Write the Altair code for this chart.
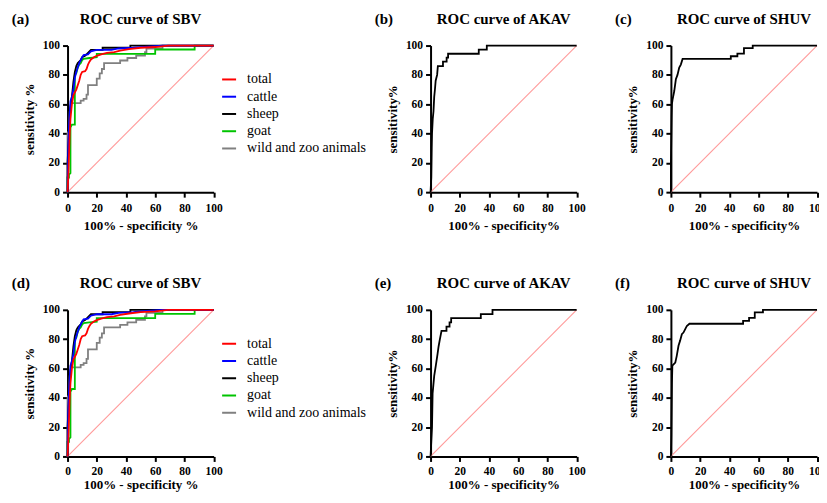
import altair as alt
import pandas as pd

# ---------------- data ----------------
SERIES = ["total", "cattle", "sheep", "goat", "wild and zoo animals"]
COLORS = ["#ff0000", "#0000ff", "#000000", "#00c400", "#808080"]

# SBV curves (panels a and d)
total_fpr = [0, 0.5, 1, 1.5, 2, 2.5, 3, 4, 5, 6, 7, 8, 9, 10, 12, 13, 14, 15, 16, 18, 20, 23, 27, 32, 36, 42, 50, 60, 69, 100]
total_tpr = [0, 10, 25, 40, 50, 55, 60, 66, 68, 70, 73, 76, 80, 82, 82.5, 84, 87, 89, 90.5, 92, 93, 94, 95, 95.5, 96.5, 97.5, 98.5, 99, 100, 100]

cattle_fpr = [0, 0.5, 1, 2, 3, 4, 5, 6, 7, 8, 9, 10, 11, 14, 16, 20, 30, 35, 45, 50, 65, 100]
cattle_tpr = [0, 30, 45, 62, 65, 70, 78, 82, 85, 88, 90, 92, 93.5, 94, 96, 97, 97, 98, 98.5, 99, 100, 100]

sheep_fpr = [0, 0, 1, 2, 3, 4, 5, 6, 7, 8, 9, 10, 12, 14, 16, 24, 24, 43, 43, 100]
sheep_tpr = [0, 20, 40, 58, 65, 75, 82, 86, 88, 89, 90, 92, 93, 95, 97, 97, 98.5, 98.5, 100, 100]

goat_fpr = [0, 0, 1, 1, 2, 2, 3, 5, 5, 6, 7, 8, 9, 10, 11, 15, 20, 20, 60, 60, 87, 87, 100]
goat_tpr = [0, 10, 10, 12, 13, 44, 46, 46, 80, 81, 85, 87, 88, 90, 91, 91.5, 92, 94.3, 94.3, 97.3, 97.3, 100, 100]

wild_fpr = [0, 0, 1, 1.5, 2, 2.5, 9, 9, 11, 11, 13, 13, 14, 14, 20, 20, 22, 22, 23.5, 23.5, 25, 25, 36, 36, 41, 41, 47, 47, 53, 53, 54, 54, 65, 65, 100]
wild_tpr = [0, 40, 42, 55, 58, 60.7, 60.7, 62.5, 62.5, 63.6, 63.6, 66.5, 66.5, 73, 73, 77.5, 77.5, 81, 81, 84, 84, 88, 88, 89.8, 89.8, 91.5, 91.5, 93.2, 93.2, 95.5, 95.5, 98, 98, 100, 100]

# AKAV (panel b)
akav_b_fpr = [0, 0.5, 0.8, 1, 1.5, 2, 2.5, 3, 3.5, 4, 4.5, 5, 8.5, 8.5, 11, 11, 12, 12, 33, 33, 38.5, 38.5, 100]
akav_b_tpr = [0, 10, 30, 40, 50, 55, 65, 70, 76, 78, 80, 86, 86, 89, 89, 91.7, 91.7, 94.4, 94.4, 97.2, 97.2, 100, 100]

# AKAV (panel e)
akav_e_fpr = [0, 0.5, 1, 1.4, 2.5, 3.6, 4.8, 5.5, 6.4, 7.5, 10.9, 10.9, 13, 13, 14.1, 14.1, 34.4, 34.4, 42.4, 42.4, 100]
akav_e_tpr = [0, 10, 20, 43, 55, 62, 70, 75, 80, 85.6, 85.6, 88.6, 88.6, 91.4, 91.4, 94.3, 94.3, 97.1, 97.1, 100, 100]

# SHUV (panel c)
shuv_c_fpr = [0, 0, 0.5, 0.7, 1.1, 2.3, 3.4, 4.5, 5.7, 6.8, 8, 41, 41, 45.5, 45.5, 50, 50, 56, 56, 100]
shuv_c_tpr = [0, 20, 52, 60, 63, 69, 77, 80, 85, 87, 90.9, 90.9, 92.7, 92.7, 94.5, 94.5, 98.2, 98.2, 100, 100]

# SHUV (panel f)
shuv_f_fpr = [0, 0.3, 0.7, 1, 3, 4, 5.2, 6.3, 7.5, 8.6, 9.8, 10.9, 12.7, 49.4, 49.4, 53.5, 53.5, 57.4, 57.4, 63, 63, 100]
shuv_f_tpr = [0, 15, 50, 62, 64, 68.6, 75.5, 79, 83.4, 84.5, 86.8, 89, 90.5, 90.5, 92.5, 92.5, 94.5, 94.5, 98.2, 98.2, 100, 100]

TICKS = [0, 20, 40, 60, 80, 100]
DIAG = [0, 100]

# ---------------- styling ----------------
FONT = "Liberation Serif"
W, H = 146.5, 147


def long_df(pairs):
    rows = []
    for name, fx, fy in pairs:
        for i, (a, b) in enumerate(zip(fx, fy)):
            rows.append({"series": name, "fpr": a, "tpr": b, "idx": i})
    return pd.DataFrame(rows)


def enc_xy(xtitle, ytitle, bottom_row):
    sc = alt.Scale(domain=[0, 100], nice=False, zero=False)
    if bottom_row:
        xax = alt.Axis(values=TICKS, title=xtitle, labelPadding=4, titlePadding=2)
    else:
        xax = alt.Axis(values=TICKS, title=xtitle, labelPadding=5, titlePadding=6)
    x = alt.X("fpr:Q", scale=sc, axis=xax)
    y = alt.Y("tpr:Q", scale=sc, axis=alt.Axis(values=TICKS, title=ytitle))
    return x, y


def panel(letter, title, ytitle, xtitle, curves, legend=False, bottom_row=False):
    x, y = enc_xy(xtitle, ytitle, bottom_row)
    diag = alt.Chart(pd.DataFrame({"fpr": DIAG, "tpr": DIAG})).mark_line(
        color="#ff9999", strokeWidth=1.1
    ).encode(x=x, y=y)
    df = long_df(curves)
    if legend:
        color = alt.Color(
            "series:N",
            scale=alt.Scale(domain=SERIES, range=COLORS),
            sort=SERIES,
            legend=alt.Legend(
                title=None, orient="none", legendX=154, legendY=26,
                symbolType="stroke", symbolSize=196, symbolStrokeWidth=2,
                labelFont=FONT, labelFontSize=14, labelColor="black",
                rowPadding=2.3, labelOffset=10, padding=0,
            ),
        )
        lines = alt.Chart(df).mark_line(strokeWidth=1.8).encode(
            x=x, y=y, color=color, detail="series:N", order="idx:Q"
        )
    else:
        lines = alt.Chart(df).mark_line(strokeWidth=1.8, color="black").encode(
            x=x, y=y, order="idx:Q"
        )
    txt = pd.DataFrame({"t": [letter], "h": [title]})
    lab = alt.Chart(txt).mark_text(
        font=FONT, fontSize=15, fontWeight="bold", align="left",
        baseline="alphabetic", color="black"
    ).encode(text="t:N", x=alt.value(-56), y=alt.value(-22))
    head = alt.Chart(txt).mark_text(
        font=FONT, fontSize=15, fontWeight="bold", align="center",
        baseline="alphabetic", color="black"
    ).encode(text="h:N", x=alt.value(W / 2), y=alt.value(-22))
    return alt.layer(diag, lines, lab, head).properties(width=W, height=H)


def spacer():
    return alt.Chart(pd.DataFrame({"v": [0]})).mark_point(opacity=0).encode(
        x=alt.X("v:Q", axis=None), y=alt.Y("v:Q", axis=None)
    ).properties(width=28.5, height=H)


sbv = [("wild and zoo animals", wild_fpr, wild_tpr), ("goat", goat_fpr, goat_tpr),
       ("sheep", sheep_fpr, sheep_tpr), ("cattle", cattle_fpr, cattle_tpr),
       ("total", total_fpr, total_tpr)]

a = panel("(a)", "ROC curve of SBV", "sensitivity %", "100% - specificity %", sbv, legend=True)
b = panel("(b)", "ROC curve of AKAV", "sensitivity%", "100% - specificity%", [("AKAV", akav_b_fpr, akav_b_tpr)])
c = panel("(c)", "ROC curve of SHUV", "sensitivity%", "100% - specificity%", [("SHUV", shuv_c_fpr, shuv_c_tpr)])
d = panel("(d)", "ROC curve of SBV", "sensitivity %", "100% - specificity %", sbv, legend=True, bottom_row=True)
e = panel("(e)", "ROC curve of AKAV", "sensitivity%", "100% - specificity%", [("AKAV", akav_e_fpr, akav_e_tpr)], bottom_row=True)
f = panel("(f)", "ROC curve of SHUV", "sensitivity%", "100% - specificity%", [("SHUV", shuv_f_fpr, shuv_f_tpr)], bottom_row=True)

chart = alt.concat(
    a, spacer(), b, c, d, spacer(), e, f,
    columns=4, spacing={"row": 118, "column": 94}, bounds="flush",
).resolve_scale(color="independent").properties(
    padding={"left": 3.7, "top": 3, "right": -7.5, "bottom": -1}
).configure_axis(
    domainColor="black", domainWidth=2, tickColor="black", tickWidth=2, tickSize=5,
    labelFont=FONT, labelFontWeight="bold", labelFontSize=11.5, labelColor="black",
    titleFont=FONT, titleFontWeight="bold", titleFontSize=13, titleColor="black",
    grid=False, labelFlush=False, labelPadding=3,
).configure_axisY(titlePadding=6).configure_view(stroke=None)

chart.save("out.html", embed_options={"renderer": "svg", "actions": False})
